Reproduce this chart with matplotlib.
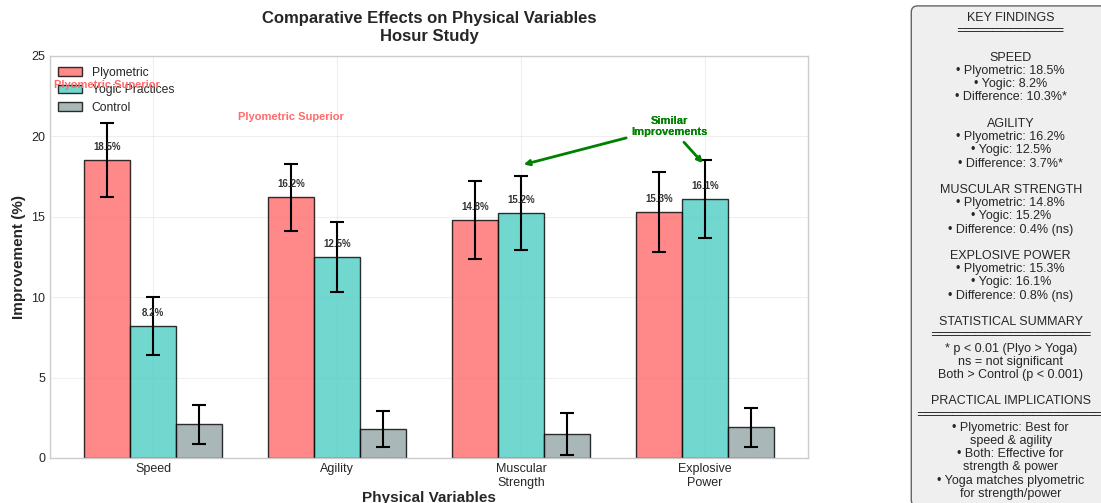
import matplotlib
matplotlib.use('Agg')
import matplotlib.pyplot as plt
import numpy as np

plt.style.use('seaborn-v0_8-whitegrid')
plt.rcParams['font.family'] = ['Liberation Sans', 'DejaVu Sans']

# data
variables = ['Speed', 'Agility', 'Muscular\nStrength', 'Explosive\nPower']
plyometric = [18.5, 16.2, 14.8, 15.3]
yogic = [8.2, 12.5, 15.2, 16.1]
control = [2.1, 1.8, 1.5, 1.9]
plyo_err = [2.3, 2.1, 2.4, 2.5]
yogic_err = [1.8, 2.2, 2.3, 2.4]
control_err = [1.2, 1.1, 1.3, 1.2]
group_names = ['Plyometric', 'Yogic Practices', 'Control']
colors = ['#FF6B6B', '#4ECDC4', '#95A5A6']

findings = """KEY FINDINGS
════════════

SPEED
• Plyometric: 18.5%
• Yogic: 8.2%
• Difference: 10.3%*

AGILITY
• Plyometric: 16.2%
• Yogic: 12.5%
• Difference: 3.7%*

MUSCULAR STRENGTH
• Plyometric: 14.8%
• Yogic: 15.2%
• Difference: 0.4% (ns)

EXPLOSIVE POWER
• Plyometric: 15.3%
• Yogic: 16.1%
• Difference: 0.8% (ns)

STATISTICAL SUMMARY
══════════════════
* p < 0.01 (Plyo > Yoga)
ns = not significant
Both > Control (p < 0.001)

PRACTICAL IMPLICATIONS
═════════════════════
• Plyometric: Best for
speed & agility
• Both: Effective for
strength & power
• Yoga matches plyometric
for strength/power"""

fig = plt.figure(figsize=(11.01, 5.03), dpi=100)
ax = fig.add_axes([0.0454, 0.0895, 0.6886, 0.7995])

x = np.arange(len(variables))
width = 0.25
series = [plyometric, yogic, control]
errs = [plyo_err, yogic_err, control_err]
for i, (vals, err) in enumerate(zip(series, errs)):
    ax.bar(x + (i - 1) * width, vals, width, yerr=err, capsize=5,
           color=colors[i], alpha=0.8, edgecolor='black', linewidth=1,
           label=group_names[i], error_kw=dict(elinewidth=1.5, capthick=1.5, ecolor='black'))

# value labels for the two training groups
for i, vals in enumerate([plyometric, yogic]):
    for xi, v in zip(x, vals):
        ax.text(xi + (i - 1) * width, v + 0.5, f'{v}%', ha='center', va='bottom',
                fontsize=7, fontweight='bold', color='#333333')

# annotations
for xi in [0, 1]:
    ax.text(xi - width, plyometric[xi] + plyo_err[xi] + 2.4 + 0.5 * xi, 'Plyometric Superior',
            ha='center', va='center', fontsize=8, fontweight='bold', color='#FF6B6B', zorder=10)

for xi in [2, 3]:
    ax.annotate('Similar\nImprovements', xy=(xi, 18.2), xytext=(2.81, 20.6),
                ha='center', va='center', fontsize=8, fontweight='bold', color='green',
                arrowprops=dict(arrowstyle='->', color='green', lw=2))

ax.set_ylim(0, 25)
ax.set_xticks(x)
ax.set_xticklabels(variables, fontsize=9)
ax.tick_params(axis='y', labelsize=9)
ax.set_ylabel('Improvement (%)', fontsize=11, fontweight='bold')
ax.set_xlabel('Physical Variables', fontsize=11, fontweight='bold', labelpad=2)
ax.set_title('Comparative Effects on Physical Variables\nHosur Study',
             fontsize=12, fontweight='bold', pad=11)
ax.legend(loc='upper left', bbox_to_anchor=(-0.004, 1.0), fontsize=8.7,
          labelspacing=0.45)
ax.grid(True, alpha=0.3)
for s in ax.spines.values():
    s.set_visible(True)
    s.set_color('#cccccc')

fig.text(0.918, 0.491, findings, ha='center', va='center', fontsize=9,
         linespacing=1.135,
         bbox=dict(boxstyle='round,pad=0.5', facecolor='#eeeeee', edgecolor='#555555', alpha=0.9))

fig.savefig('out.png', dpi=100)
